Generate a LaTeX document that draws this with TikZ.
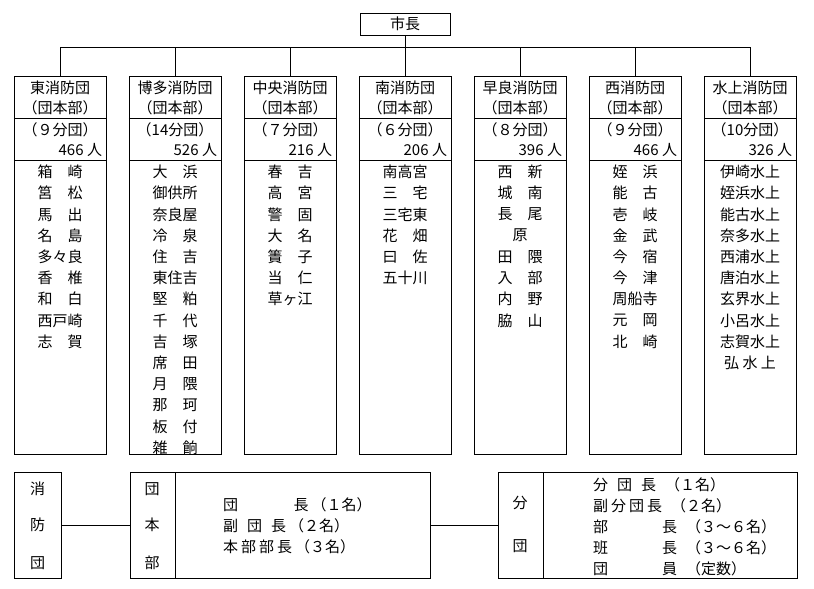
\documentclass[tikz,border=0pt]{standalone}
\usepackage{fontspec}
\setmainfont{Noto Sans CJK JP}
\usetikzlibrary{positioning}
\tikzset{
  colbox/.style={rectangle,draw,minimum width=92pt,minimum height=378pt,inner sep=0pt},
  txt/.style={inner sep=0pt,font=\fontsize{15}{17}\selectfont},
  lowbox/.style={rectangle,draw,inner sep=0pt}
}
\begin{document}
\begin{tikzpicture}[x=1pt,y=-1pt,thin]
\useasboundingbox (0,0) rectangle (814,589);
\node[rectangle,draw,minimum width=90pt,minimum height=22pt,txt] (mayor) at (405,24) {市長};
\coordinate (bus) at (405,47);
\draw (mayor.south) -- (bus);
% columns
\foreach \i/\cx/\nm/\cnt/\num in {1/60/東消防団/（９分団）/466,2/175/博多消防団/（14分団）/526,
  3/290/中央消防団/（７分団）/216,4/405/南消防団/（６分団）/206,5/520/早良消防団/（８分団）/396,
  6/635/西消防団/（９分団）/466,7/750/水上消防団/（10分団）/326}{
  \node[colbox] (col\i) at (\cx,265) {};
  \draw (col\i.west|-0,118) -- (col\i.east|-0,118);
  \draw (col\i.west|-0,160) -- (col\i.east|-0,160);
  \node[txt] (hd\i) at (\cx,88) {\nm};
  \node[txt] (hq\i) at (\cx,108) {（団本部）};
  \node[txt] (nb\i) at (\cx,130) {\cnt};
  \node[txt,anchor=east] (pp\i) at ([xshift=-4pt]col\i.east|-0,150) {\num\ 人};
  \draw (col\i.north) -- (col\i.north|-bus);
}
\draw (col1.north|-bus) -- (col7.north|-bus);
% names
\foreach \i/\cx/\lst in {
  1/60/{箱　崎,筥　松,馬　出,名　島,多々良,香　椎,和　白,西戸崎,志　賀},
  2/175/{大　浜,御供所,奈良屋,冷　泉,住　吉,東住吉,堅　粕,千　代,吉　塚,席　田,月　隈,那　珂,板　付,雑　餉},
  3/290/{春　吉,高　宮,警　固,大　名,簀　子,当　仁,草ヶ江},
  4/405/{南高宮,三　宅,三宅東,花　畑,曰　佐,五十川},
  5/520/{西　新,城　南,長　尾,　原　,田　隈,入　部,内　野,脇　山},
  6/635/{姪　浜,能　古,壱　岐,金　武,今　宿,今　津,周船寺,元　岡,北　崎},
  7/750/{伊崎水上,姪浜水上,能古水上,奈多水上,西浦水上,唐泊水上,玄界水上,小呂水上,志賀水上,弘 水 上}}{
  \foreach \n [count=\k] in \lst {
    \node[txt] (n\i-\k) at (\cx,{172+(\k-1)*21.2}) {\n};
  }
}
% legend
\node[lowbox,minimum width=47pt,minimum height=106pt] (lg1) at (37.5,525) {};
\node[txt] (lg1a) at (37.5,489) {消};
\node[txt] (lg1b) at (37.5,525) {防};
\node[txt] (lg1c) at (37.5,563) {団};
\node[lowbox,minimum width=300pt,minimum height=106pt] (lg2) at (280,525) {};
\draw (175,472) -- (175,578);
\node[txt] (lg2a) at (152,489) {団};
\node[txt] (lg2b) at (152,525) {本};
\node[txt] (lg2c) at (152,563) {部};
\node[txt,anchor=west] (lg2d) at (223,505) {団\hspace{3.7em}長\hspace{0.2em}（１名）};
\node[txt,anchor=west] (lg2e) at (223,526) {副\hspace{0.6em}団\hspace{0.6em}長\hspace{0.2em}（２名）};
\node[txt,anchor=west] (lg2f) at (223,547) {本\hspace{0.2em}部\hspace{0.2em}部\hspace{0.2em}長\hspace{0.2em}（３名）};
\node[lowbox,minimum width=299pt,minimum height=106pt] (lg3) at (647.5,525) {};
\draw (543,472) -- (543,578);
\node[txt] (lg3a) at (520,503) {分};
\node[txt] (lg3b) at (520,546) {団};
\node[txt,anchor=west] (lg3c) at (593,485) {分\hspace{0.6em}団\hspace{0.6em}長\hspace{0.6em}（１名）};
\node[txt,anchor=west] (lg3d) at (593,506) {副\hspace{0.2em}分\hspace{0.2em}団\hspace{0.2em}長\hspace{0.6em}（２名）};
\node[txt,anchor=west] (lg3e) at (593,527) {部\hspace{3.6em}長\hspace{0.6em}（３～６名）};
\node[txt,anchor=west] (lg3f) at (593,548) {班\hspace{3.6em}長\hspace{0.6em}（３～６名）};
\node[txt,anchor=west] (lg3g) at (593,569) {団\hspace{3.6em}員\hspace{0.6em}（定数）};
\draw (lg1.east) -- (lg2.west);
\draw (lg2.east) -- (lg3.west);
\end{tikzpicture}
\end{document}
